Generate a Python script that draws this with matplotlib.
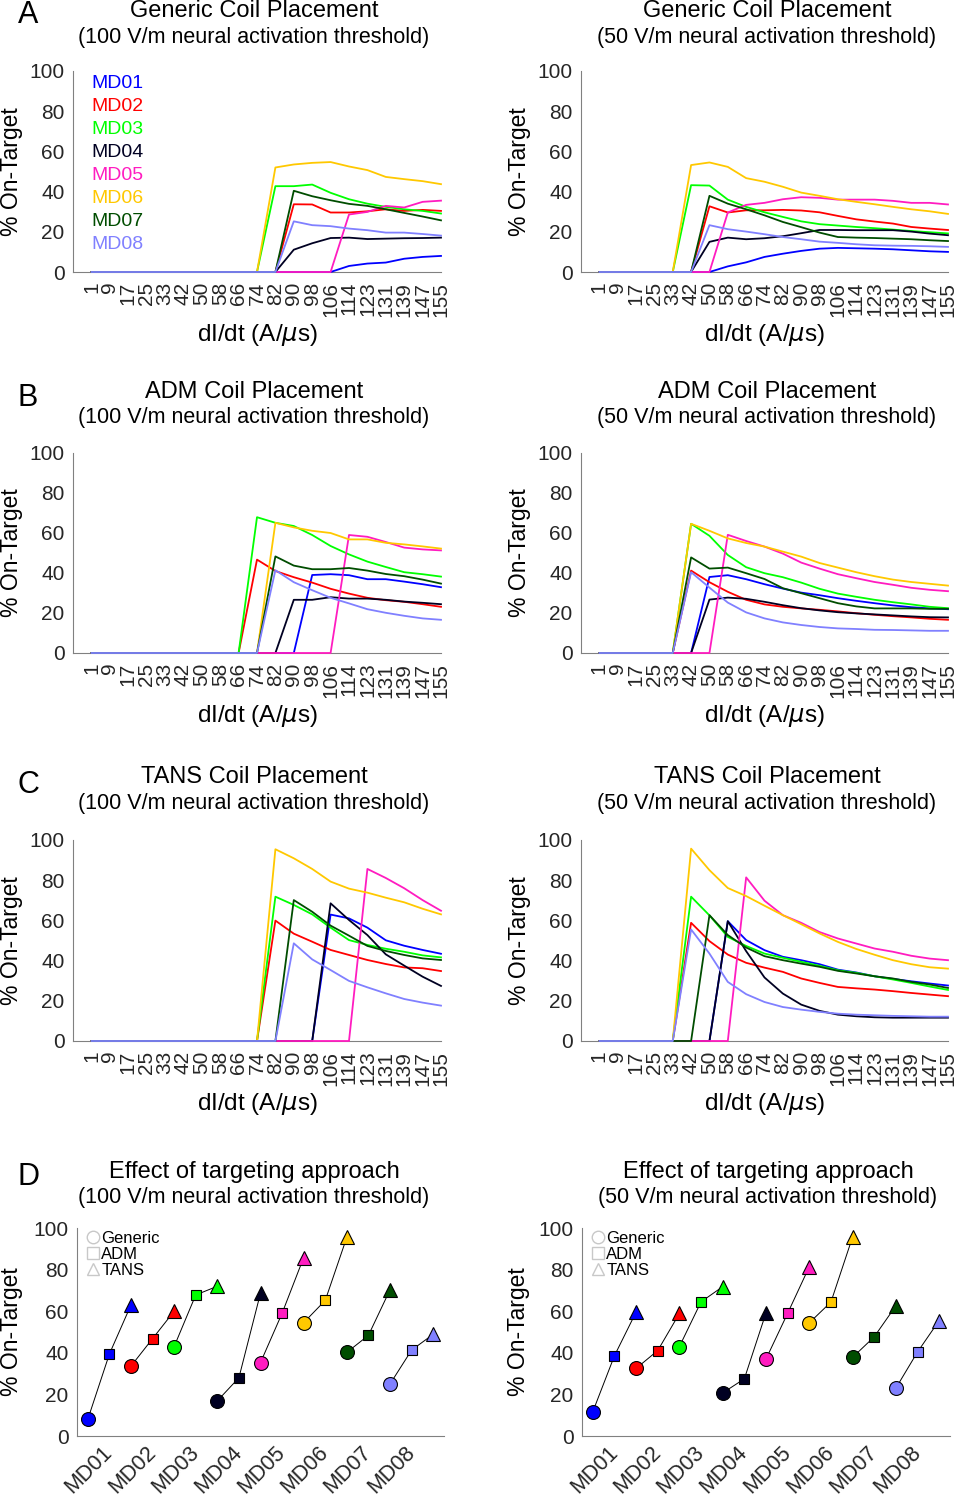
import matplotlib
matplotlib.use('Agg')
import matplotlib.pyplot as plt
from matplotlib.lines import Line2D

plt.rcParams['font.family'] = ['Liberation Sans', 'DejaVu Sans']

W, H = 957, 1500

# x axis: dI/dt steps (A/us)
dose_labels = ['1', '9', '17', '25', '33', '42', '50', '58', '66', '74', '82',
               '90', '98', '106', '114', '123', '131', '139', '147', '155']
subjects = ['MD01', 'MD02', 'MD03', 'MD04', 'MD05', 'MD06', 'MD07', 'MD08']
colors = ['#0000ff', '#ff0000', '#00ff00', '#000022', '#ff1cc0', '#ffc800', '#004d00', '#8080ff']

# % on-target per subject (rows MD01..MD08), one list per panel
generic_100 = [
    [0, 0, 0, 0, 0, 0, 0, 0, 0, 0, 0, 0, 0, 0, 3.0, 4.2, 4.7, 6.6, 7.5, 8.0],
    [0, 0, 0, 0, 0, 0, 0, 0, 0, 0, 0, 33.7, 33.6, 29.6, 29.6, 30.2, 31.2, 30.4, 30.9, 30.4],
    [0, 0, 0, 0, 0, 0, 0, 0, 0, 0, 42.7, 42.7, 43.5, 39.4, 36.2, 34.0, 32.4, 31.2, 30.4, 29.1],
    [0, 0, 0, 0, 0, 0, 0, 0, 0, 0, 0, 11.1, 14.3, 16.9, 17.1, 16.4, 16.6, 16.8, 16.9, 17.1],
    [0, 0, 0, 0, 0, 0, 0, 0, 0, 0, 0, 0, 0, 0, 28.6, 29.9, 32.9, 32.1, 34.9, 35.5],
    [0, 0, 0, 0, 0, 0, 0, 0, 0, 0, 52.0, 53.5, 54.3, 54.7, 52.5, 50.7, 47.3, 46.2, 45.2, 43.7],
    [0, 0, 0, 0, 0, 0, 0, 0, 0, 0, 0, 40.4, 37.7, 35.7, 33.9, 32.9, 31.2, 29.4, 27.6, 25.7],
    [0, 0, 0, 0, 0, 0, 0, 0, 0, 0, 0, 25.2, 23.3, 22.8, 21.6, 20.8, 19.6, 19.6, 18.9, 18.1],
]
generic_50 = [
    [0, 0, 0, 0, 0, 0, 0, 2.8, 4.8, 7.5, 9.1, 10.5, 11.6, 12.0, 11.8, 11.6, 11.3, 10.8, 10.3, 10.0],
    [0, 0, 0, 0, 0, 0, 32.7, 29.6, 30.7, 30.7, 30.9, 30.6, 29.7, 27.9, 26.2, 25.1, 24.1, 22.4, 21.6, 20.9],
    [0, 0, 0, 0, 0, 43.2, 43.0, 36.0, 32.4, 29.7, 27.4, 25.2, 23.8, 23.1, 22.4, 21.8, 21.1, 20.4, 19.8, 19.2],
    [0, 0, 0, 0, 0, 0, 15.0, 17.1, 16.3, 16.8, 17.8, 19.3, 20.9, 20.9, 20.8, 20.8, 20.8, 20.1, 19.1, 18.3],
    [0, 0, 0, 0, 0, 0, 0, 29.6, 33.4, 34.4, 36.2, 37.2, 36.9, 36.0, 36.0, 36.0, 35.4, 34.4, 34.4, 33.6],
    [0, 0, 0, 0, 0, 53.2, 54.5, 52.3, 46.7, 44.9, 42.4, 39.5, 37.9, 36.2, 34.9, 33.7, 32.4, 31.2, 30.2, 28.9],
    [0, 0, 0, 0, 0, 0, 37.9, 34.0, 31.2, 28.2, 24.9, 22.3, 19.6, 17.4, 17.1, 16.9, 16.6, 16.3, 15.8, 15.4],
    [0, 0, 0, 0, 0, 0, 23.3, 21.3, 20.1, 18.8, 17.4, 16.3, 15.1, 14.5, 13.8, 13.3, 13.1, 13.0, 12.8, 12.5],
]
adm_100 = [
    [0, 0, 0, 0, 0, 0, 0, 0, 0, 0, 0, 0, 39.0, 39.4, 38.9, 36.9, 36.9, 35.7, 34.4, 32.9],
    [0, 0, 0, 0, 0, 0, 0, 0, 0, 46.7, 41.0, 37.9, 35.2, 32.1, 29.7, 27.6, 26.4, 25.6, 24.4, 23.1],
    [0, 0, 0, 0, 0, 0, 0, 0, 0, 67.9, 65.1, 63.5, 59.0, 53.5, 49.3, 45.7, 43.0, 40.4, 39.4, 38.2],
    [0, 0, 0, 0, 0, 0, 0, 0, 0, 0, 0, 26.6, 26.6, 27.9, 27.2, 27.2, 26.6, 25.7, 25.1, 24.4],
    [0, 0, 0, 0, 0, 0, 0, 0, 0, 0, 0, 0, 0, 0, 59.0, 58.1, 55.5, 52.7, 51.8, 51.3],
    [0, 0, 0, 0, 0, 0, 0, 0, 0, 0, 65.1, 62.8, 61.1, 60.0, 56.8, 56.8, 55.1, 54.3, 53.3, 52.2],
    [0, 0, 0, 0, 0, 0, 0, 0, 0, 0, 48.3, 43.7, 41.9, 41.9, 42.5, 41.2, 39.5, 38.4, 36.7, 34.7],
    [0, 0, 0, 0, 0, 0, 0, 0, 0, 0, 41.4, 35.4, 31.4, 27.6, 24.8, 21.9, 20.1, 18.6, 17.3, 16.6],
]
adm_50 = [
    [0, 0, 0, 0, 0, 0, 38.0, 38.9, 36.9, 34.4, 32.2, 30.2, 28.9, 27.4, 26.1, 24.9, 23.8, 22.9, 22.3, 21.9],
    [0, 0, 0, 0, 0, 41.2, 35.4, 30.6, 26.6, 24.3, 23.1, 22.3, 21.6, 20.8, 19.9, 19.1, 18.4, 17.8, 17.1, 16.6],
    [0, 0, 0, 0, 0, 64.6, 58.6, 49.0, 42.9, 39.9, 37.9, 35.2, 32.1, 29.7, 28.1, 26.6, 25.4, 24.3, 23.1, 22.4],
    [0, 0, 0, 0, 0, 0, 26.7, 27.7, 27.1, 25.6, 23.9, 22.4, 21.3, 20.4, 19.8, 19.3, 18.8, 18.3, 17.9, 17.8],
    [0, 0, 0, 0, 0, 0, 0, 59.1, 56.0, 53.2, 49.7, 45.2, 42.2, 39.4, 37.4, 35.5, 34.1, 32.6, 31.6, 30.9],
    [0, 0, 0, 0, 0, 64.6, 61.1, 57.3, 55.0, 53.2, 50.7, 48.2, 45.0, 42.7, 40.4, 38.4, 36.7, 35.5, 34.6, 33.7],
    [0, 0, 0, 0, 0, 47.8, 42.2, 42.7, 39.9, 37.0, 32.4, 29.9, 27.4, 24.9, 23.3, 22.3, 22.3, 22.3, 22.1, 22.1],
    [0, 0, 0, 0, 0, 40.4, 32.7, 25.2, 20.3, 17.3, 15.3, 14.0, 13.0, 12.3, 12.0, 11.6, 11.5, 11.3, 11.1, 11.1],
]
tans_100 = [
    [0, 0, 0, 0, 0, 0, 0, 0, 0, 0, 0, 0, 0, 62.9, 61.0, 56.4, 50.1, 47.4, 45.3, 43.4],
    [0, 0, 0, 0, 0, 0, 0, 0, 0, 0, 59.9, 53.4, 49.4, 45.3, 42.8, 40.3, 38.3, 36.6, 36.2, 34.8],
    [0, 0, 0, 0, 0, 0, 0, 0, 0, 0, 71.8, 67.7, 63.0, 56.4, 50.2, 47.8, 45.9, 44.4, 42.6, 41.6],
    [0, 0, 0, 0, 0, 0, 0, 0, 0, 0, 0, 0, 0, 68.5, 60.2, 52.7, 43.1, 37.5, 32.0, 27.4],
    [0, 0, 0, 0, 0, 0, 0, 0, 0, 0, 0, 0, 0, 0, 0, 85.6, 81.1, 76.0, 70.1, 64.8],
    [0, 0, 0, 0, 0, 0, 0, 0, 0, 0, 95.4, 90.9, 85.6, 79.3, 75.8, 73.8, 71.3, 69.0, 65.8, 63.0],
    [0, 0, 0, 0, 0, 0, 0, 0, 0, 0, 0, 70.1, 64.3, 57.4, 52.4, 47.3, 44.8, 42.8, 41.1, 40.3],
    [0, 0, 0, 0, 0, 0, 0, 0, 0, 0, 0, 48.6, 40.6, 35.3, 29.9, 26.7, 23.7, 20.9, 19.1, 17.6],
]
tans_50 = [
    [0, 0, 0, 0, 0, 0, 0, 59.6, 50.2, 45.2, 41.9, 40.2, 38.2, 35.5, 34.1, 32.2, 30.9, 29.7, 28.6, 27.6],
    [0, 0, 0, 0, 0, 58.8, 49.7, 43.0, 38.9, 36.5, 34.4, 31.1, 28.9, 26.9, 26.2, 25.6, 24.8, 23.9, 23.1, 22.3],
    [0, 0, 0, 0, 0, 71.8, 62.5, 51.8, 47.3, 43.5, 41.4, 39.4, 37.4, 35.2, 33.9, 32.2, 30.6, 28.9, 27.1, 25.4],
    [0, 0, 0, 0, 0, 0, 0, 59.6, 44.7, 31.6, 23.6, 18.1, 15.0, 13.1, 12.3, 11.8, 11.6, 11.6, 11.6, 11.6],
    [0, 0, 0, 0, 0, 0, 0, 0, 81.4, 69.8, 62.6, 58.8, 54.2, 51.0, 48.5, 46.0, 44.4, 42.4, 41.0, 40.2],
    [0, 0, 0, 0, 0, 95.7, 85.0, 76.1, 72.1, 67.3, 62.6, 58.1, 53.5, 49.3, 45.8, 42.9, 40.2, 38.2, 36.7, 36.0],
    [0, 0, 0, 0, 0, 0, 62.6, 52.7, 46.5, 42.2, 40.2, 38.5, 36.9, 34.9, 33.6, 32.2, 31.1, 29.4, 28.1, 26.4],
    [0, 0, 0, 0, 0, 55.5, 43.5, 29.4, 23.3, 19.4, 16.9, 15.6, 14.5, 13.6, 13.1, 12.8, 12.5, 12.3, 12.1, 12.1],
]

# panel D: peak % on-target per targeting approach
peak_generic_100 = [8.0, 33.6, 43.0, 16.9, 35.3, 54.5, 40.2, 25.0]
peak_adm_100 = [39.4, 46.8, 67.8, 28.0, 59.0, 65.2, 48.4, 41.3]
peak_tans_100 = [63.0, 60.0, 72.0, 68.7, 85.8, 95.6, 70.3, 48.9]
peak_generic_50 = [11.7, 32.5, 43.0, 20.7, 37.0, 54.4, 37.8, 23.0]
peak_adm_50 = [38.6, 41.1, 64.5, 27.5, 59.0, 64.4, 47.7, 40.4]
peak_tans_50 = [59.6, 58.9, 71.8, 59.2, 81.4, 95.7, 62.6, 55.5]

TICK_FS = 15
LABEL_FS = 16.5
TITLE_FS = 17
SUBTITLE_FS = 15.5


def px_rect(x0, x1, y_top, y_bot):
    return [x0 / W, 1 - y_bot / H, (x1 - x0) / W, (y_bot - y_top) / H]


def style_axes(ax, ylab_x):
    ax.spines['top'].set_visible(False)
    ax.spines['right'].set_visible(False)
    ax.spines['left'].set_color('#808080')
    ax.spines['bottom'].set_color('#808080')
    ax.tick_params(length=0, labelsize=TICK_FS, labelcolor='#262626')
    ax.tick_params(axis='y', pad=6)
    ax.set_ylim(0, 100)
    ax.set_yticks(range(0, 101, 20))
    ax.set_ylabel('% On-Target', fontsize=LABEL_FS)
    ax.yaxis.set_label_coords(ylab_x, 0.5)


def line_panel(ax, series):
    x = list(range(1, len(dose_labels) + 1))
    for vals, c, name in zip(series, colors, subjects):
        ax.plot(x, vals, color=c, lw=1.3, zorder=3, clip_on=False, label=name)
    style_axes(ax, -0.135)
    ax.set_xlim(0, 20)
    ax.set_xticks(x)
    ax.set_xticklabels(dose_labels, rotation=90)
    ax.tick_params(axis='x', pad=7)
    ax.set_xlabel(r'dI/dt (A/$\mu$s)', fontsize=17.5)
    ax.xaxis.set_label_coords(0.5, -0.25)


def marker_panel(ax, gen, adm, tans, ylab_x):
    for i, c in enumerate(colors):
        xs = [i + 0.5, i + 1, i + 1.5]
        ys = [gen[i], adm[i], tans[i]]
        ax.plot(xs, ys, color='k', lw=0.7, zorder=2, clip_on=False)
        ax.plot(xs[0], ys[0], 'o', mfc=c, mec='k', mew=0.8, ms=10, zorder=3, clip_on=False)
        ax.plot(xs[1], ys[1], 's', mfc=c, mec='k', mew=0.8, ms=7.5, zorder=3, clip_on=False)
        ax.plot(xs[2], ys[2], '^', mfc=c, mec='k', mew=0.8, ms=10, zorder=3, clip_on=False)
    style_axes(ax, ylab_x)
    ax.set_xlim(0.25, 8.75)
    ax.set_xticks(range(1, len(subjects) + 1))
    ax.set_xticklabels(subjects, rotation=45, ha='right', va='center', rotation_mode='anchor',
                       fontsize=15.5)
    ax.tick_params(axis='x', pad=10)
    handles = [Line2D([], [], ls='none', marker=m, mfc='none', mec='#c8c8c8', ms=ms)
               for m, ms in [('o', 9), ('s', 8), ('^', 8)]]
    ax.legend(handles, ['Generic', 'ADM', 'TANS'], loc='upper left', frameon=False,
              fontsize=12, handlelength=0.8, handletextpad=0.1, labelspacing=0.05,
              borderpad=0, borderaxespad=0, bbox_to_anchor=(0.025, 0.985))


fig = plt.figure(figsize=(W / 100, H / 100), dpi=100)

# rows: (top, bottom) of axes in pixels, title line centres, panel letter y
rows = [
    ('A', 71, 272, 11, 37, 15, 'Generic Coil Placement', generic_100, generic_50),
    ('B', 453, 653, 392, 418, 398, 'ADM Coil Placement', adm_100, adm_50),
    ('C', 840, 1041, 777, 804, 785, 'TANS Coil Placement', tans_100, tans_50),
]
for letter, top, bot, t1, t2, ly, title, left_data, right_data in rows:
    ax_l = fig.add_axes(px_rect(73, 441, top, bot))
    ax_r = fig.add_axes(px_rect(581, 948, top, bot))
    line_panel(ax_l, left_data)
    line_panel(ax_r, right_data)
    for cx, thr in [(254, '100'), (767, '50')]:
        fig.text(cx / W, 1 - t1 / H, title, ha='center', va='center', fontsize=TITLE_FS)
        fig.text(cx / W, 1 - t2 / H, '(%s V/m neural activation threshold)' % thr,
                 ha='center', va='center', fontsize=SUBTITLE_FS)
    fig.text(28 / W, 1 - ly / H, letter, ha='center', va='center', fontsize=22)
    if letter == 'A':
        leg = ax_l.legend(loc='upper left', frameon=False, fontsize=14, handlelength=0,
                          handletextpad=0, labelspacing=0.28, borderpad=0, borderaxespad=0,
                          labelcolor='linecolor', bbox_to_anchor=(0.05, 0.985))
        for h in leg.legend_handles:
            h.set_visible(False)

ax_dl = fig.add_axes(px_rect(77, 444, 1228, 1436))
ax_dr = fig.add_axes(px_rect(582, 950, 1228, 1436))
marker_panel(ax_dl, peak_generic_100, peak_adm_100, peak_tans_100, -0.148)
marker_panel(ax_dr, peak_generic_50, peak_adm_50, peak_tans_50, -0.141)
for cx, thr in [(254, '100'), (768, '50')]:
    fig.text(cx / W, 1 - 1172 / H, 'Effect of targeting approach', ha='center', va='center',
             fontsize=TITLE_FS)
    fig.text(cx / W, 1 - 1198 / H, '(%s V/m neural activation threshold)' % thr,
             ha='center', va='center', fontsize=SUBTITLE_FS)
fig.text(28 / W, 1 - 1177 / H, 'D', ha='center', va='center', fontsize=22)

fig.savefig('out.png', dpi=100)
